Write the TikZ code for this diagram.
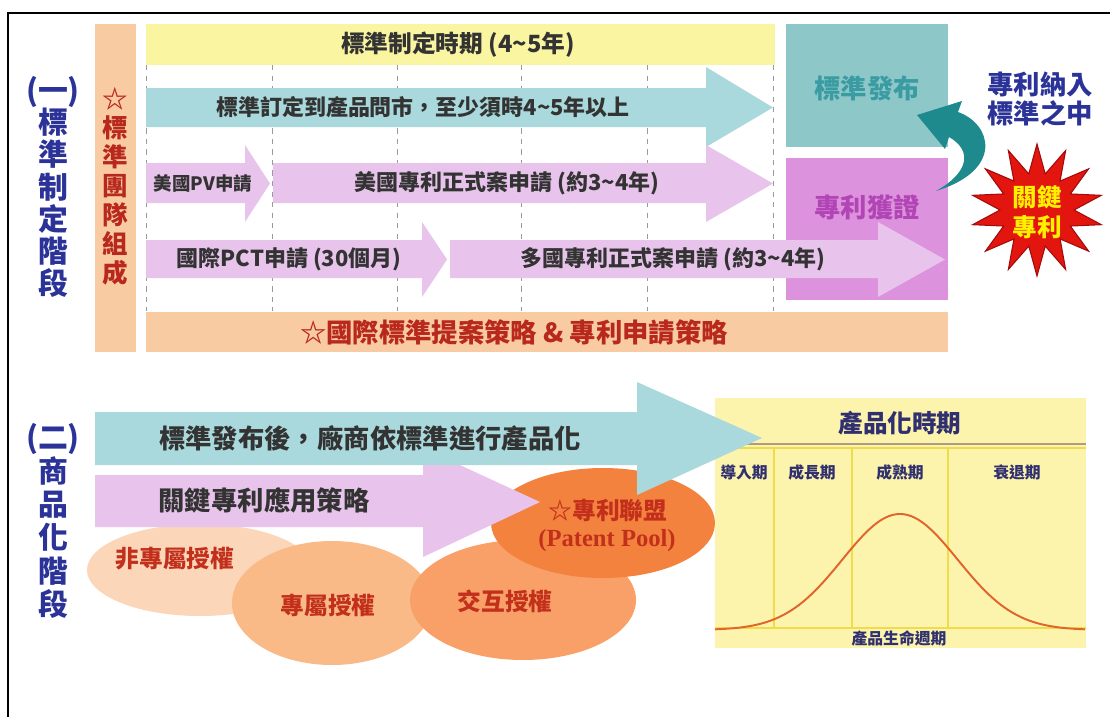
\documentclass[tikz,border=0pt]{standalone}
\usepackage{fontspec}
\setmainfont{Noto Sans CJK TC}
\newfontfamily\serifen{Liberation Serif}
\definecolor{bgyellow}{HTML}{FAF5A0}
\definecolor{tealarrow}{HTML}{A9D9DC}
\definecolor{pinkarrow}{HTML}{E8C4EC}
\definecolor{peach}{HTML}{F9CBA2}
\definecolor{tealbox}{HTML}{8DC7C8}
\definecolor{magbox}{HTML}{DD92DD}
\definecolor{navy}{HTML}{2B3398}
\definecolor{darkred}{HTML}{B8281C}
\definecolor{textgray}{HTML}{333333}
\definecolor{dashgray}{HTML}{9A9A9A}
\definecolor{tealtext}{HTML}{3A9CA2}
\definecolor{magtext}{HTML}{B245B5}
\definecolor{curvteal}{HTML}{1E8A8D}
\definecolor{starred}{HTML}{E3160F}
\definecolor{stardark}{HTML}{A30A0A}
\definecolor{keyyellow}{HTML}{FFF000}
\definecolor{ellA}{HTML}{FCD6B9}
\definecolor{ellB}{HTML}{F9BA88}
\definecolor{ellC}{HTML}{F8A068}
\definecolor{ellD}{HTML}{F4823F}
\definecolor{chartbg}{HTML}{FCF4AC}
\definecolor{chartline}{HTML}{EEDC4A}
\definecolor{curvecol}{HTML}{E0642C}
\definecolor{kaired}{HTML}{C2301C}
\definecolor{chartnavy}{HTML}{303070}
\definecolor{brownline}{HTML}{B09A84}
\begin{document}
\begin{tikzpicture}[x=0.02cm,y=-0.02cm,
  lbl/.style={inner sep=0, text=textgray, font=\bfseries\fontsize{12.5}{14}\selectfont},
  biglbl/.style={inner sep=0, text=textgray, font=\bfseries\fontsize{15}{17}\selectfont},
  kai/.style={inner sep=0, text=kaired, font=\bfseries\fontsize{13.5}{15}\selectfont},
  phase/.style={inner sep=0, text=chartnavy, font=\bfseries\fontsize{9}{10}\selectfont},
  dashline/.style={dashgray, dashed, line width=0.5pt},
  chartv/.style={chartline, line width=1.2pt}]
\useasboundingbox (0,0) rectangle (1110,717);
\fill[white] (0,0) rectangle (1110,717);
% frame
\draw[line width=1.2pt] (8,717) -- (8,13) -- (1110,13);

% ===== stage 1 =====
\node[inner sep=0, text=navy, align=center, font=\bfseries\fontsize{17}{18.3}\selectfont] (lab1) at (53,187) {(一)\\標\\準\\制\\定\\階\\段};
\fill[peach] (95,24) rectangle (136,352);
\node[inner sep=0, text=darkred, align=center, font=\bfseries\fontsize{14.5}{16.5}\selectfont] (team) at (115,186) {☆\\標\\準\\團\\隊\\組\\成};
\fill[bgyellow] (146,24) rectangle (775,65);
\node[lbl, font=\bfseries\fontsize{13.5}{15}\selectfont] (period) at (458,45) {標準制定時期 (4\textasciitilde 5年)};
\foreach \xx in {146,272,397,521,647,773} \draw[dashline] (\xx,65) -- (\xx,311);
\fill[tealbox] (786,24) rectangle (948,147);
\node[inner sep=0, text=tealtext, font=\bfseries\fontsize{15}{17}\selectfont] (pub) at (867,88) {標準發布};
\fill[magbox] (786,158) rectangle (948,300);
\node[inner sep=0, text=magtext, font=\bfseries\fontsize{15}{17}\selectfont] (grant) at (867,207) {專利獲證};
% teal arrow
\fill[tealarrow] (146,88) -- (706,88) -- (706,67) -- (773,107.5) -- (706,147) -- (706,127) -- (146,127) -- cycle;
\node[lbl] (t1) at (423,107) {標準訂定到產品問市，至少須時4\textasciitilde 5年以上};
% pink row 1
\fill[pinkarrow] (146,163) -- (245,163) -- (245,145) -- (270,183.5) -- (245,222) -- (245,203) -- (146,203) -- cycle;
\node[lbl, font=\bfseries\fontsize{10.5}{12}\selectfont] (pv) at (203,183) {美國PV申請};
\fill[pinkarrow] (273,163) -- (706,163) -- (706,145) -- (773,183.5) -- (706,222) -- (706,203) -- (273,203) -- cycle;
\node[lbl] (us) at (507,183) {美國專利正式案申請 (約3\textasciitilde 4年)};
% pink row 2
\fill[pinkarrow] (146,240) -- (422,240) -- (422,222) -- (447,259.5) -- (422,297) -- (422,278) -- (146,278) -- cycle;
\node[lbl] (pct) at (289,259) {國際PCT申請 (30個月)};
\fill[pinkarrow] (450,240) -- (878,240) -- (878,222) -- (945,259.5) -- (878,297) -- (878,278) -- (450,278) -- cycle;
\node[lbl] (multi) at (673,259) {多國專利正式案申請 (約3\textasciitilde 4年)};
% bottom orange bar
\fill[peach] (146,312) rectangle (948,352);
\node[inner sep=0, text=darkred, font=\bfseries\fontsize{15}{17}\selectfont] (strat) at (514,332) {☆國際標準提案策略 \& 專利申請策略};
% curved arrow
\fill[curvteal] (917,115) -- (962,101) -- (958,112) .. controls (992,124) and (1004,170) .. (936,191)
  .. controls (970,172) and (972,150) .. (949,137) -- (945,149) -- cycle;
\node[inner sep=0, text=navy, align=center, font=\bfseries\fontsize{15}{16.5}\selectfont] (incl) at (1040,99) {專利納入\\標準之中};
% star
\begin{scope}[shift={(1037,210)}]
\fill[starred, draw=stardark, line width=0.6pt] (90:66) \foreach \i in {1,...,27} { -- ({90+\i*360/28}:{(\i-2*int(\i/2))==0 ? 66 : 37}) } -- cycle;
\end{scope}
\node[inner sep=0, text=keyyellow, align=center, font=\bfseries\fontsize{14}{17}\selectfont] (key) at (1037,212) {關鍵\\專利};

% ===== stage 2 =====
\node[inner sep=0, text=navy, align=center, font=\bfseries\fontsize{17}{19}\selectfont] (lab2) at (53,521) {(二)\\商\\品\\化\\階\\段};
\fill[ellA] (200,570) ellipse [x radius=113, y radius=46];
\fill[ellB] (332,603) ellipse [x radius=100, y radius=62];
\fill[ellC] (523,600) ellipse [x radius=113, y radius=60];
\fill[ellD] (603,523) ellipse [x radius=112, y radius=55];
\node[kai] (e1) at (175,559) {非專屬授權};
\node[kai] (e2) at (328,605) {專屬授權};
\node[kai] (e3) at (505,601) {交互授權};
\node[kai] (e4) at (608,511) {☆專利聯盟};
\node[inner sep=0, text=kaired, font=\serifen\bfseries\fontsize{14}{16}\selectfont] (pool) at (607,541) {(Patent Pool)};
% pink arrow
\fill[pinkarrow] (95,475) -- (423,475) -- (423,448) -- (540,502) -- (423,557) -- (423,527) -- (95,527) -- cycle;
\node[biglbl] (apply) at (264,500) {關鍵專利應用策略};
% chart
\fill[chartbg] (715,398) rectangle (1086,648);
\node[inner sep=0, text=chartnavy, font=\bfseries\fontsize{14}{16}\selectfont] (ctitle) at (900,423) {產品化時期};
\draw[brownline, line width=1.6pt] (715,444) -- (1086,444);
\draw[chartline, line width=0.8pt] (715,448) -- (1086,448);
\foreach \xx in {774,852,948} \draw[chartv] (\xx,449) -- (\xx,628);
\draw[chartv] (715,628) -- (1086,628);
\draw[curvecol, line width=1.1pt] plot[domain=715:1085, samples=120] (\x, {630-116*exp(-0.5*((\x-900)/57.7)^2)});
\node[phase] (p1) at (744,472) {導入期};
\node[phase] (p2) at (812,472) {成長期};
\node[phase] (p3) at (900,472) {成熟期};
\node[phase] (p4) at (1017,472) {衰退期};
\node[phase] (plc) at (899,638) {產品生命週期};
% blue arrow (on top)
\fill[tealarrow] (95,412) -- (637,412) -- (637,382) -- (762,438) -- (637,495) -- (637,465) -- (95,465) -- cycle;
\node[biglbl] (after) at (370,438) {標準發布後，廠商依標準進行產品化};
\end{tikzpicture}
\end{document}
